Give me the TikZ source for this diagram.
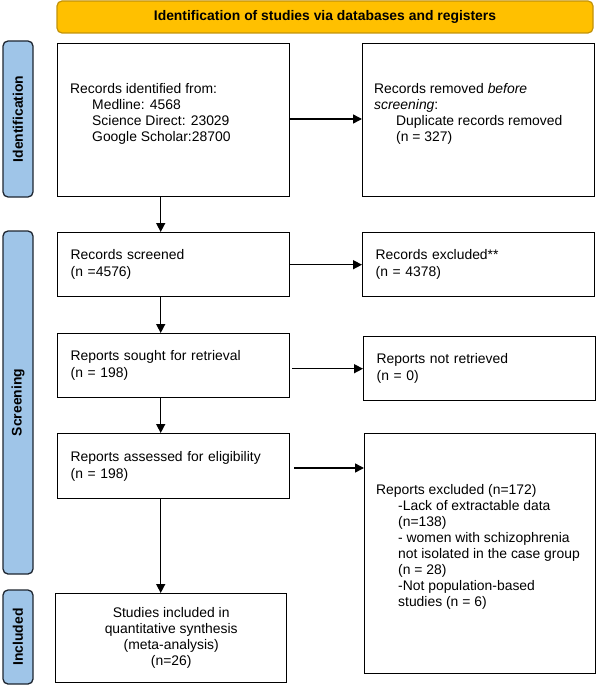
\documentclass[tikz,border=0pt]{standalone}
\usepackage{fontspec}
\setmainfont{Liberation Sans}
\usetikzlibrary{arrows.meta,calc}
\definecolor{gold}{HTML}{FFC000}
\definecolor{goldline}{HTML}{C29309}
\definecolor{sideblue}{HTML}{9FC5E8}
\definecolor{sideline}{HTML}{1E2630}
\begin{document}
\begin{tikzpicture}[x=1pt,y=-1pt,
  every node/.style={font=\fontsize{13.9}{16}\selectfont},
  box/.style={draw=black, line width=1.4pt, fill=white, inner sep=0pt, anchor=north west},
  lbox/.style={box, align=left, inner xsep=13pt, text width=#1},
  txt/.style={inner sep=0pt, align=left, anchor=west},
  two/.style={font=\fontsize{13.9}{17}\selectfont},
  side/.style={draw=sideline, line width=1.3pt, fill=sideblue, rounded corners=5pt,
     rotate=90, minimum height=30pt, inner sep=0pt, font=\fontsize{13.9}{16}\selectfont\bfseries},
  banner/.style={draw=goldline, line width=1.2pt, fill=gold, rounded corners=5pt,
     minimum width=536pt, minimum height=32pt, inner sep=0pt, font=\fontsize{13.9}{16}\selectfont\bfseries},
  arr/.style={line width=1.5pt, -{Triangle[length=9pt,width=9pt]}}
]
\useasboundingbox (0,0) rectangle (597,685);

% banner
\node[banner] (ban) at (325,17) {Identification of studies via databases and registers};

% side bars
\node[side, minimum width=156pt] (s1) at (18,119) {Identification};
\node[side, minimum width=343pt] (s2) at (18,402.5) {Screening};
\node[side, minimum width=94pt] (s3) at (18,637) {Included};

% identification
\node[box, minimum width=232pt, minimum height=153pt] (b1) at (57,43) {};
\node[txt] (t1) at (70,114) {Records identified from:\\
  \hspace*{22pt}Medline: 4568\\
  \hspace*{22pt}Science Direct: 23029\\
  \hspace*{22pt}Google Scholar:28700};
\node[box, minimum width=232pt, minimum height=153pt] (b2) at (362,43) {};
\node[txt] (t2) at (374,114) {Records removed \textit{before}\\
  \textit{screening}:\\
  \hspace*{22pt}Duplicate records removed\\
  \hspace*{22pt}(n = 327)};

% screening
\node[lbox=206pt, two, minimum height=64pt] (b3) at (57,232) {Records screened\\(n =4576)};
\node[lbox=206pt, two, minimum height=64pt] (b4) at (362,232) {Records excluded**\\(n = 4378)};
\node[lbox=206pt, two, minimum height=64pt] (b5) at (57,333) {Reports sought for retrieval\\(n = 198)};
\node[lbox=206pt, two, minimum height=64pt] (b6) at (363,336) {Reports not retrieved\\(n = 0)};
\node[lbox=206pt, two, minimum height=65pt] (b7) at (57,433) {Reports assessed for eligibility\\(n = 198)};
\node[box, minimum width=231pt, minimum height=240pt] (b8) at (364,433) {};
\node[txt] (t8) at (376,547) {Reports excluded (n=172)\\
  \hspace*{22pt}-Lack of extractable data\\
  \hspace*{22pt}(n=138)\\
  \hspace*{22pt}- women with schizophrenia\\
  \hspace*{22pt}not isolated in the case group\\
  \hspace*{22pt}(n = 28)\\
  \hspace*{22pt}-Not population-based\\
  \hspace*{22pt}studies (n = 6)};

% included
\node[box, align=center, minimum width=231pt, minimum height=89pt] (b9) at (55,593)
  {Studies included in\\quantitative synthesis\\(meta-analysis)\\(n=26)};

% arrows
\draw[arr] (b1.east |- 0,119) -- (b2.west |- 0,119);
\draw[arr] (b3.east) -- (b4.west |- b3.east);
\draw[arr] ([xshift=2pt]b5.east |- b6.west) -- (b6.west);
\draw[arr] ([xshift=4pt]b7.east |- 0,468) -- (b8.west |- 0,468);
\draw[arr] ([xshift=-13pt]b1.south) -- ([xshift=-13pt]b1.south |- b3.north);
\draw[arr] ([xshift=-13pt]b3.south) -- ([xshift=-13pt]b3.south |- b5.north);
\draw[arr] ([xshift=-13pt]b5.south) -- ([xshift=-13pt]b5.south |- b7.north);
\draw[arr] ([xshift=-13pt]b7.south) -- ([xshift=-13pt]b7.south |- b9.north);
\end{tikzpicture}
\end{document}
